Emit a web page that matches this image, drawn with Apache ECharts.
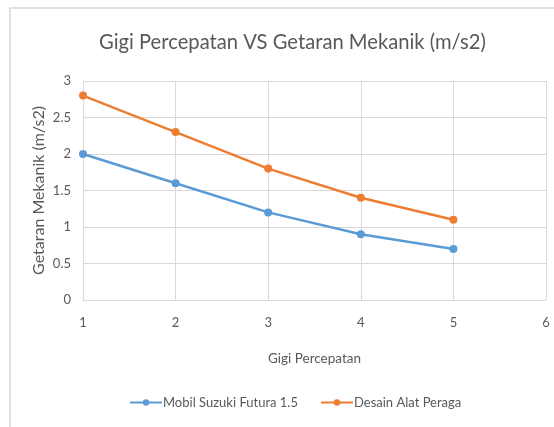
<!DOCTYPE html>
<html><head><meta charset="utf-8">
<script src="https://cdn.jsdelivr.net/npm/echarts@6/dist/echarts.min.js"></script>
<style>html,body{margin:0;padding:0;background:#fff}#c{width:554px;height:427px}</style>
</head><body><div id="c"></div>
<script>
var gears = [1, 2, 3, 4, 5];
var suzuki = [2.0, 1.6, 1.2, 0.9, 0.7];
var desain = [2.8, 2.3, 1.8, 1.4, 1.1];
var seriesNames = ['Mobil Suzuki Futura 1.5', 'Desain Alat Peraga'];
var FONT = 'Lato';
var TXT = '#595959';
function pairs(xs, ys){ return xs.map(function(x,i){return [x, ys[i]];}); }
var chart = echarts.init(document.getElementById('c'), null, {renderer:'canvas'});
chart.setOption({
  animation:false,
  textStyle:{fontFamily:FONT},
  title:{text:'Gigi Percepatan VS Getaran Mekanik (m/s2)', left:94, top:27,
    textStyle:{fontFamily:FONT, fontSize:20.2, fontWeight:'normal', color:TXT}},
  graphic:[{type:'polyline', shape:{points:[[10,427],[10,8],[554,8]]},
    style:{stroke:'#d9d9d9', lineWidth:1.5, fill:null}, silent:true}],
  legend:{bottom:13, left:124, itemWidth:32, itemHeight:8, itemGap:22,
    textStyle:{fontFamily:FONT, fontSize:13, color:TXT, padding:[0,0,0,-4]},
    data:seriesNames},
  grid:{left:83, right:8, top:81, bottom:127},
  xAxis:{type:'value', min:1, max:6, interval:1,
    name:'Gigi Percepatan', nameLocation:'middle', nameGap:52, nameMoveOverlap:false,
    nameTextStyle:{fontFamily:FONT, fontSize:13.5, color:TXT},
    axisLine:{show:true, lineStyle:{color:'#d9d9d9'}}, axisTick:{show:false},
    axisLabel:{color:TXT, fontSize:13, fontFamily:FONT, margin:16},
    splitLine:{show:true, lineStyle:{color:'#d9d9d9'}}},
  yAxis:{type:'value', min:0, max:3, interval:0.5,
    name:'Getaran Mekanik (m/s2)', nameLocation:'middle', nameGap:36, nameMoveOverlap:false,
    nameTextStyle:{fontFamily:FONT, fontSize:16, color:TXT},
    axisLine:{show:true, lineStyle:{color:'#d9d9d9'}}, axisTick:{show:false},
    axisLabel:{color:TXT, fontSize:13, fontFamily:FONT, margin:12},
    splitLine:{show:true, lineStyle:{color:'#d9d9d9'}}},
  series:[
    {name:seriesNames[0], type:'line', data:pairs(gears, suzuki), symbol:'circle', symbolSize:8,
      lineStyle:{width:2.5, color:'#5B9BD5'}, itemStyle:{color:'#5B9BD5'}},
    {name:seriesNames[1], type:'line', data:pairs(gears, desain), symbol:'circle', symbolSize:8,
      lineStyle:{width:2.5, color:'#ED7D31'}, itemStyle:{color:'#ED7D31'}}
  ]
});
</script></body></html>
